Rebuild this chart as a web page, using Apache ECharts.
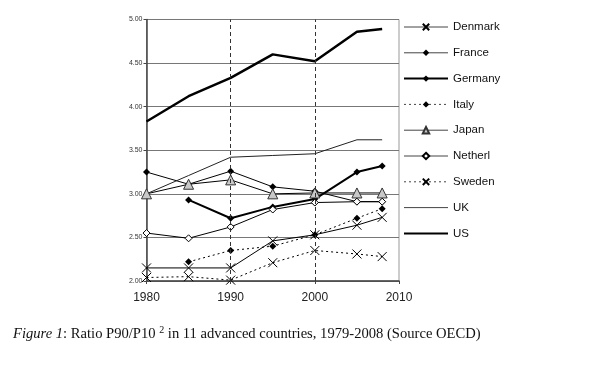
<!DOCTYPE html>
<html>
<head>
<meta charset="utf-8">
<script src="https://cdn.jsdelivr.net/npm/echarts@6/dist/echarts.min.js"></script>
<style>
html,body{margin:0;padding:0;background:#fff;}
#chart{width:600px;height:367px;}
</style>
</head>
<body>
<div id="chart"></div>
<script>
var years = [1980, 1985, 1990, 1995, 2000, 2005, 2008];
var countries = ["Denmark", "France", "Germany", "Italy", "Japan", "Netherl", "Sweden", "UK", "US"];
var denmark = [2.15, 2.15, 2.15, 2.46, 2.53, 2.64, 2.73];
var france  = [3.25, 3.11, 3.26, 3.08, 3.03, 2.91, 2.91];
var germany = [null, 2.93, 2.72, 2.85, 2.94, 3.25, 3.32];
var italy   = [null, 2.22, 2.35, 2.40, 2.53, 2.72, 2.83];
var japan   = [3.00, 3.11, 3.16, 3.00, 3.01, 3.01, 3.01];
var netherl = [2.55, 2.49, 2.62, 2.82, 2.90, 2.91, 2.91];
var sweden  = [2.04, 2.05, 2.01, 2.21, 2.35, 2.31, 2.28];
var uk      = [3.00, 3.21, 3.42, 3.44, 3.46, 3.62, 3.62];
var us      = [3.83, 4.12, 4.33, 4.60, 4.52, 4.86, 4.89];
var xTicks = [1980, 1990, 2000, 2010];
var yTicks = [2.00, 2.50, 3.00, 3.50, 4.00, 4.50, 5.00];
var caption = "Figure 1";
var captionRest = ": Ratio P90/P10 ";
var captionSup = "2";
var captionEnd = " in 11 advanced countries, 1979-2008 (Source OECD)";

function pts(arr) {
  var out = [];
  for (var i = 0; i < years.length; i++) {
    if (arr[i] !== null) out.push([years[i], arr[i]]);
  }
  return out;
}
var X_PATH = 'path://M0,0L10,10M10,0L0,10';
var dotted = [2, 3];
var lineWidths = [1, 1, 2, 1, 1, 1, 1, 1, 2.5];

function mk(name, data, opts) {
  return {
    name: name,
    type: 'line',
    data: pts(data),
    symbol: opts.symbol || 'none',
    symbolSize: opts.size || 7,
    showSymbol: opts.symbol ? true : false,
    lineStyle: { color: opts.lineColor || '#000', width: opts.width || 1, type: opts.type || 'solid' },
    itemStyle: opts.item || { color: '#000' },
    emphasis: { disabled: true },
    animation: false,
    z: opts.z || 2
  };
}
var xItem = { color: 'rgba(0,0,0,0)', borderColor: '#000', borderWidth: 1 };
var noItem = { color: 'rgba(0,0,0,0)', borderColor: 'rgba(0,0,0,0)', borderWidth: 0 };

var series = [
  mk(countries[0], denmark, { symbol: X_PATH, size: 9, item: xItem }),
  mk(countries[1], france, { symbol: 'diamond', size: 7 }),
  mk(countries[2], germany, { symbol: 'diamond', size: 7, width: lineWidths[2] }),
  mk(countries[3], italy, { symbol: 'diamond', size: 7, type: dotted }),
  mk(countries[4], japan, { symbol: 'triangle', size: 10, item: { color: '#c8c8c8', borderColor: '#333', borderWidth: 1 } }),
  mk(countries[5], netherl, { symbol: 'diamond', size: 7, item: { color: '#fff', borderColor: '#000', borderWidth: 1 } }),
  mk(countries[6], sweden, { symbol: X_PATH, size: 9, type: dotted, item: xItem }),
  mk(countries[7], uk, { width: 1, lineColor: '#222', item: noItem }),
  mk(countries[8], us, { width: lineWidths[8], item: noItem })
];
series[0].markLine = {
  silent: true,
  symbol: 'none',
  label: { show: false },
  lineStyle: { color: '#333', type: [4, 3], width: 1 },
  data: [{ xAxis: 1990 }, { xAxis: 2000 }],
  animation: false
};

var legendData = countries.map(function (c, i) {
  return { name: c, lineStyle: { width: lineWidths[i] > 1 ? 2 : 1, color: lineWidths[i] > 1 ? '#000' : '#444' } };
});

var chart = echarts.init(document.getElementById('chart'), null, { renderer: 'canvas' });
chart.setOption({
  backgroundColor: '#fff',
  animation: false,
  grid: { left: 146.5, right: 201, top: 19.5, bottom: 86, show: true, borderColor: '#999', borderWidth: 1, backgroundColor: 'transparent' },
  xAxis: {
    type: 'value', min: 1980, max: 2010, interval: 10,
    axisLine: { show: true, onZero: false, lineStyle: { color: '#444', width: 1.5 } },
    axisTick: { show: true, length: 3, lineStyle: { color: '#444' } },
    splitLine: { show: false },
    axisLabel: { fontFamily: 'Liberation Sans, Arial', fontSize: 12, color: '#222', margin: 11,
      formatter: function (v) { return xTicks.indexOf(v) >= 0 ? String(v) : ''; } }
  },
  yAxis: {
    type: 'value', min: 2, max: 5, interval: 0.5,
    axisLine: { show: true, lineStyle: { color: '#444', width: 1.5 } },
    axisTick: { show: true, length: 3, lineStyle: { color: '#444' } },
    splitLine: { show: true, lineStyle: { color: '#777', width: 1 } },
    axisLabel: { fontFamily: 'Liberation Sans, Arial', fontSize: 7, color: '#333', margin: 4,
      formatter: function (v) { return v.toFixed(2); } }
  },
  legend: {
    orient: 'vertical', left: 398, top: 16, itemWidth: 44, itemHeight: 8, itemGap: 13.8,
    data: legendData,
    textStyle: { fontFamily: 'Liberation Sans, Arial', fontSize: 11.5, color: '#111' },
    selectedMode: false
  },
  graphic: [{
    type: 'text', left: 13, top: 325,
    style: {
      text: '{i|' + caption + '}' + captionRest + '{s|' + captionSup + '}' + captionEnd,
      fontFamily: 'Liberation Serif, Times New Roman', fontSize: 14.6, fill: '#111',
      rich: {
        i: { fontStyle: 'italic', fontFamily: 'Liberation Serif', fontSize: 14.6, fill: '#111' },
        s: { fontFamily: 'Liberation Serif', fontSize: 10, verticalAlign: 'top', padding: [0, 0, 8, 0], fill: '#111' }
      }
    }
  }],
  series: series
});
</script>
</body>
</html>
